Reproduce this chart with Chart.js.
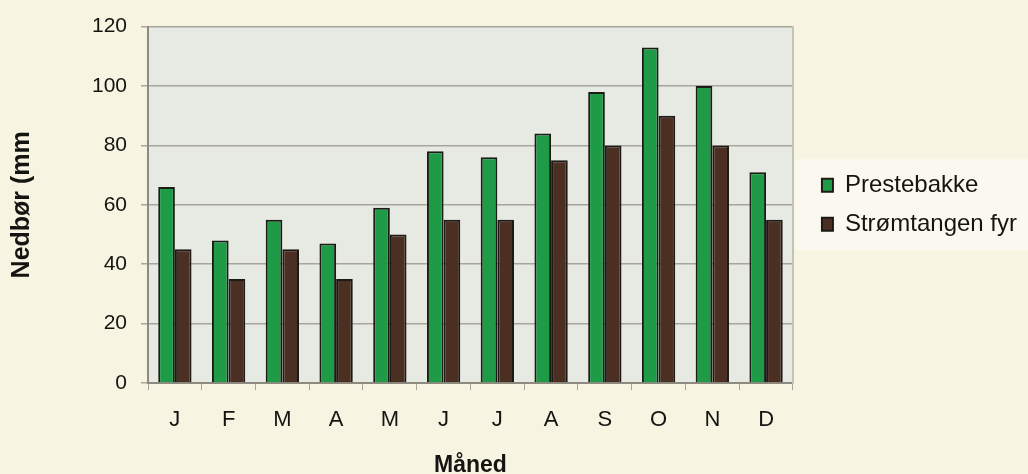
<!DOCTYPE html>
<html>
<head>
<meta charset="utf-8">
<title>Nedbør per måned</title>
<script src="https://cdn.jsdelivr.net/npm/chart.js@4"></script>
<style>
  html, body { margin: 0; padding: 0; background: #f7f4e2; }
  #wrap { width: 1028px; height: 474px; }
</style>
</head>
<body>
<div id="wrap"><canvas id="nedborChart" width="1028" height="474"></canvas></div>
<script>
// Månedsnedbør (mm)
const months = ['J', 'F', 'M', 'A', 'M', 'J', 'J', 'A', 'S', 'O', 'N', 'D'];
const prestebakke = [66, 48, 55, 47, 59, 78, 76, 84, 98, 113, 100, 71];
const stromtangen = [45, 35, 45, 35, 50, 55, 55, 75, 80, 90, 80, 55];
const yTicks = [0, 20, 40, 60, 80, 100, 120];

const FONT = 'Liberation Sans, Arial, sans-serif';
const TEXT = '#141410';
const GRID = '#a8a59c';
const AXIS = '#8d8a80';

// grey plot area and the pale panel behind the legend
const plotBackground = {
    id: 'plotBackground',
    beforeDraw(chart) {
        const { ctx, chartArea: a } = chart;
        ctx.save();
        ctx.fillStyle = '#e7e9e3';
        ctx.fillRect(a.left, a.top, a.right - a.left, a.bottom - a.top);

        const boxes = chart.legend && chart.legend.legendHitBoxes;
        if (boxes && boxes.length) {
            const first = boxes[0];
            const last = boxes[boxes.length - 1];
            ctx.fillStyle = '#fbf9ef';
            ctx.fillRect(a.right + 2, first.top - 14, chart.width - a.right - 2, last.top + last.height - first.top + 28);
        }
        ctx.restore();
    }
};

new Chart(document.getElementById('nedborChart').getContext('2d'), {
    type: 'bar',
    data: {
        labels: months,
        datasets: [
            {
                label: 'Prestebakke',
                data: prestebakke,
                backgroundColor: '#1f9b48',
                borderColor: '#1b1d15',
                borderWidth: 2,
                barPercentage: 1,
                categoryPercentage: 0.62
            },
            {
                label: 'Strømtangen fyr',
                data: stromtangen,
                backgroundColor: '#4b2f23',
                borderColor: '#1b1a14',
                borderWidth: 2,
                barPercentage: 1,
                categoryPercentage: 0.62
            }
        ]
    },
    options: {
        responsive: false,
        animation: false,
        layout: {
            padding: { top: 25, right: 1, bottom: 0, left: 0 }
        },
        plugins: {
            tooltip: { enabled: false },
            legend: {
                position: 'right',
                fullSize: false,
                align: 'center',
                maxWidth: 300,
                labels: {
                    boxWidth: 11,
                    boxHeight: 13,
                    padding: 15,
                    color: TEXT,
                    font: { family: FONT, size: 24 }
                }
            }
        },
        scales: {
            x: {
                offset: true,
                grid: { display: true, drawOnChartArea: false, offset: true, tickLength: 7, color: GRID },
                border: { display: true, color: AXIS, width: 2 },
                ticks: { color: TEXT, padding: 17, font: { family: FONT, size: 22 } },
                title: {
                    display: true,
                    text: 'Måned',
                    color: TEXT,
                    font: { family: FONT, size: 23, weight: 'bold', lineHeight: 1 },
                    padding: { top: 0, bottom: -3 }
                },
                afterFit(scale) { scale.height = 91; }
            },
            y: {
                min: 0,
                max: 120,
                afterBuildTicks(scale) { scale.ticks = yTicks.map(v => ({ value: v })); },
                grid: { color: GRID, lineWidth: 1.5, tickLength: 7 },
                border: { display: true, color: AXIS, width: 2 },
                ticks: { color: TEXT, padding: 14, font: { family: FONT, size: 21 } },
                title: {
                    display: true,
                    text: 'Nedbør (mm',
                    color: TEXT,
                    font: { family: FONT, size: 25, weight: 'bold' },
                    padding: { top: 7, bottom: 0 }
                },
                afterFit(scale) { scale.width = 148; }
            },
            // right edge of the plot frame
            frame: {
                position: 'right',
                min: 0,
                max: 120,
                grid: { display: false, drawTicks: false },
                border: { display: true, color: '#c4c3ba', width: 2 },
                ticks: { display: false },
                afterFit(scale) { scale.width = 14; }
            }
        }
    },
    plugins: [plotBackground]
});
</script>
</body>
</html>
